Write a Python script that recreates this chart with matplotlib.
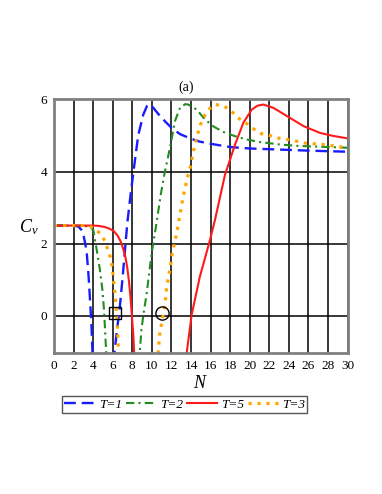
import matplotlib
matplotlib.use("Agg")
import matplotlib.pyplot as plt
import numpy as np

plt.rcParams['font.family'] = ['Liberation Serif', 'DejaVu Serif']
plt.rcParams['mathtext.fontset'] = 'custom'
plt.rcParams['mathtext.rm'] = 'Liberation Serif'
plt.rcParams['mathtext.it'] = 'Liberation Serif:italic'

nan = np.nan

# T=1 (two branches separated by nan)
n_t1 = [0, 1, 2, 2.5, 2.8, 3.0, 3.2, 3.33, 3.5, 3.6, 3.67, 3.75, 3.83, 3.93, 3.97, nan,
        6.12, 6.17, 6.33, 6.5, 6.67, 7.0, 7.27, 7.5, 7.8, 8.1, 8.6, 9.12, 9.5, 9.8, 10.2,
        10.83, 11.5, 12.02, 12.87, 13.9, 14.9, 16, 18, 20, 23, 26, 30]
cv_t1 = [2.5, 2.5, 2.5, 2.47, 2.38, 2.25, 1.98, 1.78, 1.22, 0.8, 0.47, 0.1, -0.28, -1.03, -1.4, nan,
         -1.3, -1.03, -0.66, -0.25, 0.09, 1.03, 1.88, 2.6, 3.3, 3.96, 5.0, 5.58, 5.82, 5.87, 5.75,
         5.54, 5.35, 5.21, 5.04, 4.92, 4.83, 4.77, 4.68, 4.64, 4.61, 4.58, 4.55]

# T=2
n_t2 = [0, 2, 3, 3.5, 4.0, 4.33, 4.67, 4.93, 5.1, 5.23, 5.33, 5.37, nan,
        8.7, 8.78, 8.93, 9.12, 9.47, 9.98, 10.49, 10.9, 11.3, 11.85, 12.36, 12.87, 13.4,
        13.72, 14.57, 15.42, 16.3, 17.3, 18.5, 19.7, 21, 23.1, 25, 27, 30]
cv_t2 = [2.5, 2.5, 2.5, 2.47, 2.39, 1.88, 1.31, 0.75, 0.19, -0.47, -1.03, -1.4, nan,
         -1.3, -0.95, -0.4, 0.0, 0.62, 1.74, 2.6, 3.35, 3.96, 4.66, 5.4, 5.77, 5.87,
         5.86, 5.72, 5.45, 5.25, 5.10, 4.98, 4.89, 4.82, 4.75, 4.71, 4.69, 4.66]

# T=5
n_t5 = [0, 2, 4, 4.6, 5.2, 5.7, 6.13, 6.5, 6.81, 7.1, 7.32, 7.5, 7.66, 7.8, 7.9, 8.0, 8.1, 8.2, 8.23, nan,
        13.5, 13.55, 14.06, 14.9, 15.85, 16.45, 17.47, 18.5, 19.34, 20.2, 20.8, 21.4, 22.4,
        23.8, 25.5, 27.2, 28.5, 30]
cv_t5 = [2.5, 2.5, 2.5, 2.49, 2.46, 2.41, 2.34, 2.22, 2.06, 1.83, 1.6, 1.3, 0.95, 0.55, 0.2, -0.17, -0.54, -1.09, -1.4, nan,
         -1.3, -1.05, 0.02, 1.08, 2.01, 2.66, 3.91, 4.75, 5.35, 5.72, 5.83, 5.86, 5.77,
         5.54, 5.26, 5.07, 4.99, 4.92]

# T=3
n_t3 = [0, 1, 2, 3, 3.8, 4.3, 4.75, 5.2, 5.45, 5.79, 5.96, 6.13, 6.23, 6.33, 6.47, 6.57, 6.6, nan,
        10.6, 10.66, 10.83, 11.0, 11.17, 11.34, 11.51, 11.85, 12.12, 12.36, 12.7, 12.87, 13.2,
        13.6, 13.9, 14.4, 14.9, 15.25, 15.77, 16.45, 17.3, 18.15, 18.8, 19.6, 20.36, 21.2,
        22.06, 22.9, 23.8, 24.8, 25.6, 27.5, 29.4, 30]
cv_t3 = [2.5, 2.5, 2.5, 2.5, 2.46, 2.38, 2.27, 2.07, 1.87, 1.6, 1.32, 0.85, 0.58, 0.3, -0.26, -0.91, -1.3, nan,
         -1.3, -0.95, -0.44, -0.21, 0.05, 0.3, 0.79, 1.29, 1.81, 2.05, 2.54, 2.8, 3.31,
         3.8, 4.1, 4.75, 5.26, 5.49, 5.72, 5.86, 5.83, 5.67, 5.49, 5.35, 5.19, 5.05,
         5.0, 4.93, 4.89, 4.84, 4.79, 4.75, 4.68, 4.67]

# marked points
square_pt = (6.2, 0.06)
circle_pt = (11.03, 0.06)

x_ticks = list(range(0, 31, 2))
y_ticks = [0, 2, 4, 6]

fig = plt.figure(figsize=(3.82, 4.94), dpi=100)
ax = fig.add_axes([0.1414, 0.286, 0.7686, 0.5126])

ax.plot(n_t1, cv_t1, color='#1a1aff', lw=1.7, linestyle=(0, (5, 2.5)), label='T=1')
ax.plot(n_t2, cv_t2, color='#228B22', lw=1.5, linestyle=(0, (4, 2, 1, 2)), label='T=2')
ax.plot(n_t5, cv_t5, color='#ff1a1a', lw=1.5, linestyle='-', label='T=5')
ax.plot(n_t3, cv_t3, color='#FFA500', lw=2.3, linestyle=(0, (1, 1.8)),
        dash_capstyle='butt', label='T=3')

ax.plot([square_pt[0]], [square_pt[1]], marker='s', ms=8, mfc='none', mec='black', mew=1.0)
ax.plot([circle_pt[0]], [circle_pt[1]], marker='o', ms=9.5, mfc='none', mec='black', mew=1.0)

ax.set_xlim(0, 30)
ax.set_ylim(-1.03, 6.0)
ax.set_xticks(x_ticks)
ax.set_yticks(y_ticks)
ax.grid(True, color='black', lw=1.1)
ax.set_axisbelow(True)
ax.tick_params(length=0, labelsize=9.5, pad=5)
for s in ax.spines.values():
    s.set_color('#808080')
    s.set_linewidth(2.0)

ax.set_xlabel('$N$', fontsize=13, va='center')
ax.xaxis.set_label_coords(0.5, -0.12)
ax.set_ylabel('$C_v$', fontsize=13, rotation=0, va='center', ha='center')
ax.yaxis.set_label_coords(-0.085, 0.494)
ax.text(0.449, 1.05, '(a)', transform=ax.transAxes, ha='center', va='center', fontsize=10)

fig.legend(loc='center', bbox_to_anchor=(0.484, 0.181), ncol=4,
           prop={'size': 9.5, 'style': 'italic'},
           frameon=True, fancybox=False, edgecolor='#555555', framealpha=1,
           handlelength=2.3, handletextpad=0.3, columnspacing=0.3,
           borderpad=0.15, borderaxespad=0)

fig.savefig('out.png', dpi=100)
